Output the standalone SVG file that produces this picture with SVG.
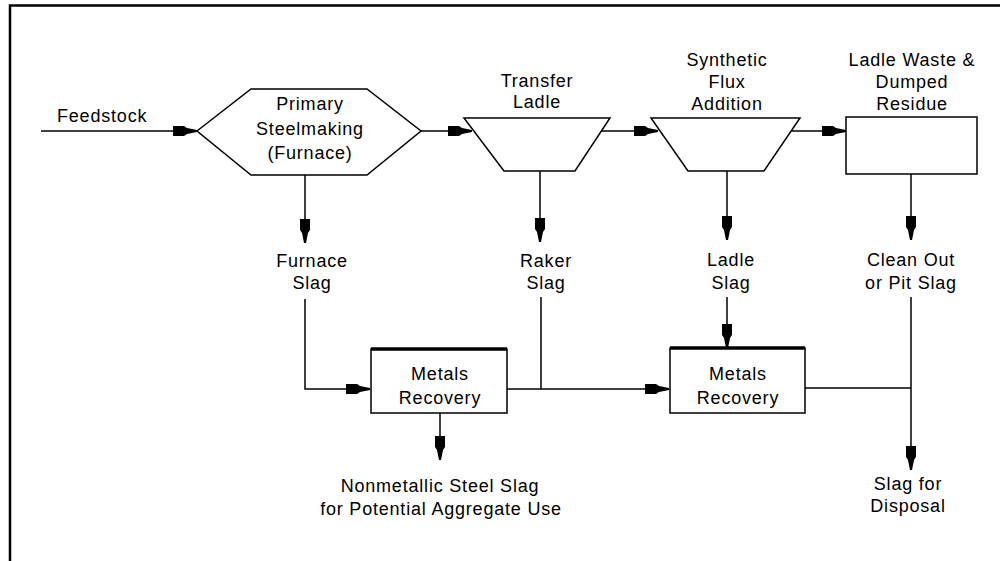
<svg xmlns="http://www.w3.org/2000/svg" width="1000" height="561" viewBox="0 0 1000 561">
<style>
text{font-family:"Liberation Sans",Arial,sans-serif;font-size:18px;fill:#000;letter-spacing:0.8px}
.c{text-anchor:middle}
.shape{fill:#fff;stroke:#000;stroke-width:1.5}
.ln{fill:none;stroke:#000;stroke-width:1.5}
</style>
<defs>
<marker id="ah" markerUnits="userSpaceOnUse" markerWidth="26" markerHeight="14" viewBox="0 -7 26 14" refX="24" refY="0" orient="auto">
<path d="M0,-5 L11,-5 L14,-3 L24,-1 L24,1 L14,3 L11,5 L0,5 Z" fill="#000"/>
</marker>
</defs>
<rect width="1000" height="561" fill="#fff"/>
<g id="border" fill="none" stroke="#000" stroke-width="2.5">
<path d="M10,561 V5.5 H1000"/>
</g>
<g id="connectors">
<path class="ln" d="M41,131 H197" marker-end="url(#ah)"/>
<path class="ln" d="M421,131 H472" marker-end="url(#ah)"/>
<path class="ln" d="M601,131 H658" marker-end="url(#ah)"/>
<path class="ln" d="M791,131 H846" marker-end="url(#ah)"/>
<path class="ln" d="M305,175 V243" marker-end="url(#ah)"/>
<path class="ln" d="M540,171 V242" marker-end="url(#ah)"/>
<path class="ln" d="M727,171 V240" marker-end="url(#ah)"/>
<path class="ln" d="M911,174 V240" marker-end="url(#ah)"/>
<path class="ln" d="M305,299 V389 H370" marker-end="url(#ah)"/>
<path class="ln" d="M541,297 V389"/>
<path class="ln" d="M507,389 H669" marker-end="url(#ah)"/>
<path class="ln" d="M727,297 V348" marker-end="url(#ah)"/>
<path class="ln" d="M805,388 H911"/>
<path class="ln" d="M911,297 V470" marker-end="url(#ah)"/>
<path class="ln" d="M440,413 V460" marker-end="url(#ah)"/>
</g>
<g id="feedstock"><text x="57" y="122">Feedstock</text></g>
<g id="furnace">
<polygon class="shape" points="197,131 251,89 367,89 421,131 367,175 251,175"/>
<text class="c" x="310" y="110">Primary</text>
<text class="c" x="310" y="135">Steelmaking</text>
<text class="c" x="310" y="159">(Furnace)</text>
</g>
<g id="transfer-ladle">
<polygon class="shape" points="464,118 610,118 575,171 504,171"/>
<text class="c" x="537" y="87">Transfer</text>
<text class="c" x="537" y="108">Ladle</text>
</g>
<g id="flux-addition">
<polygon class="shape" points="651,118 800,118 764,171 688,171"/>
<text class="c" x="727" y="66">Synthetic</text>
<text class="c" x="727" y="88">Flux</text>
<text class="c" x="727" y="110">Addition</text>
</g>
<g id="ladle-waste">
<rect class="shape" x="846" y="117" width="131" height="57"/>
<text class="c" x="912" y="66">Ladle Waste &amp;</text>
<text class="c" x="912" y="88">Dumped</text>
<text class="c" x="912" y="110">Residue</text>
</g>
<g id="furnace-slag">
<text class="c" x="312" y="267">Furnace</text>
<text class="c" x="312" y="289">Slag</text>
</g>
<g id="raker-slag">
<text class="c" x="546" y="267">Raker</text>
<text class="c" x="546" y="289">Slag</text>
</g>
<g id="ladle-slag">
<text class="c" x="731" y="266">Ladle</text>
<text class="c" x="731" y="289">Slag</text>
</g>
<g id="clean-out">
<text class="c" x="911" y="266">Clean Out</text>
<text class="c" x="911" y="289">or Pit Slag</text>
</g>
<g id="metals-recovery-1">
<rect class="shape" x="371" y="349" width="136" height="64"/>
<path d="M371,349 H507" stroke="#000" stroke-width="3.5"/>
<text class="c" x="440" y="380">Metals</text>
<text class="c" x="440" y="404">Recovery</text>
</g>
<g id="metals-recovery-2">
<rect class="shape" x="670" y="348" width="135" height="65"/>
<path d="M670,348 H805" stroke="#000" stroke-width="3.5"/>
<text class="c" x="738" y="380">Metals</text>
<text class="c" x="738" y="404">Recovery</text>
</g>
<g id="nonmetallic">
<text class="c" x="440" y="492">Nonmetallic Steel Slag</text>
<text class="c" x="441" y="515">for Potential Aggregate Use</text>
</g>
<g id="disposal">
<text class="c" x="908" y="490">Slag for</text>
<text class="c" x="908" y="512">Disposal</text>
</g>
</svg>
